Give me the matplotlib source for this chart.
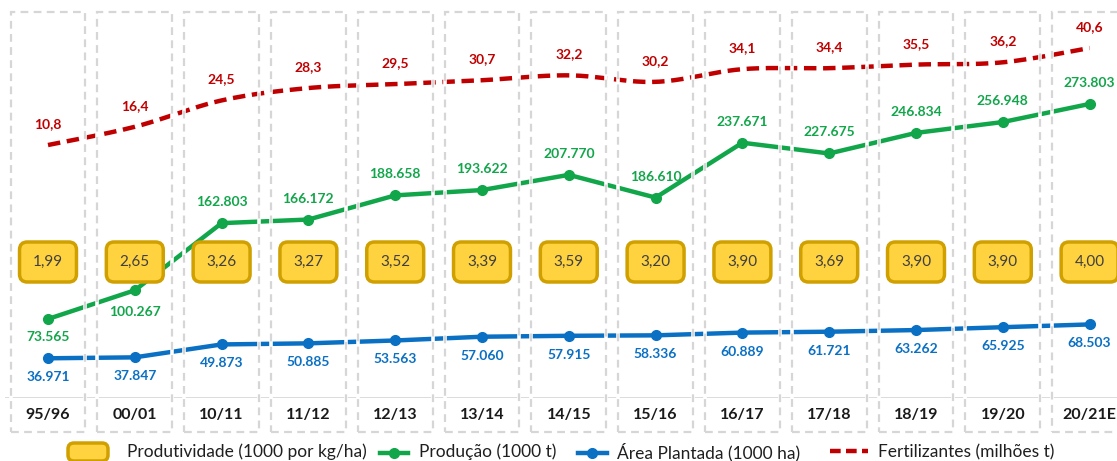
import numpy as np
import matplotlib.pyplot as plt
from matplotlib.patches import FancyBboxPatch, Rectangle
from matplotlib.lines import Line2D
from matplotlib.transforms import IdentityTransform

safras = ["95/96", "00/01", "10/11", "11/12", "12/13", "13/14", "14/15",
          "15/16", "16/17", "17/18", "18/19", "19/20", "20/21E"]
producao = [73565, 100267, 162803, 166172, 188658, 193622, 207770,
            186610, 237671, 227675, 246834, 256948, 273803]
area = [36971, 37847, 49873, 50885, 53563, 57060, 57915,
        58336, 60889, 61721, 63262, 65925, 68503]
produtividade = [1.99, 2.65, 3.26, 3.27, 3.52, 3.39, 3.59,
                 3.20, 3.90, 3.69, 3.90, 3.90, 4.00]
fertilizantes = [10.8, 16.4, 24.5, 28.3, 29.5, 30.7, 32.2,
                 30.2, 34.1, 34.4, 35.5, 36.2, 40.6]

VERDE = "#12A64B"
AZUL = "#0A70C4"
VERMELHO = "#C00000"
CINZA = "#D6D6D6"
plt.rcParams["font.family"] = ["Lato", "DejaVu Sans"]

W, H = 1117, 461
PX = 1.074          # pixels per unit (1000) on the main axis


def fmt_mil(v):
    return f"{v:,}".replace(",", ".")


def fmt_dec(v, n):
    return f"{v:.{n}f}".replace(".", ",")


def catmull(x, y, n=24):
    # smoothed line like Excel's "smooth line"
    p = np.column_stack([x, y]).astype(float)
    p = np.vstack([p[0], p, p[-1]])
    out = []
    t = np.linspace(0, 1, n)[:, None]
    for i in range(1, len(p) - 2):
        p0, p1, p2, p3 = p[i - 1], p[i], p[i + 1], p[i + 2]
        seg = 0.5 * ((2 * p1) + (-p0 + p2) * t + (2 * p0 - 5 * p1 + 4 * p2 - p3) * t ** 2
                     + (-p0 + 3 * p1 - 3 * p2 + p3) * t ** 3)
        out.append(seg if i == 1 else seg[1:])
    out = np.vstack(out)
    return out[:, 0], out[:, 1]


fig = plt.figure(figsize=(W / 100, H / 100), dpi=100)
ax = fig.add_axes([4.6 / W, 63 / H, 1128.4 / W, 388 / H])
ax.set_xlim(-0.5, 12.5)
ax.set_ylim(0, 388 / PX)
ax.axis("off")

ax2 = ax.twinx()
ax2.set_ylim(-66.9, 52.27)
ax2.axis("off")
ax.set_zorder(2)
ax.patch.set_visible(False)

x = np.arange(len(safras))
prod_k = [v / 1000 for v in producao]
area_k = [v / 1000 for v in area]

# fertilizantes (secondary axis, behind)
sx, sy = catmull(x, fertilizantes)
ax2.plot(sx, sy, color=VERMELHO, lw=3.2, linestyle=(0, (2.8, 1.5)),
         dash_capstyle="butt")
for i, v in enumerate(fertilizantes):
    ax2.annotate(fmt_dec(v, 1), (i, v), xytext=(0, 21), textcoords="offset pixels",
                 ha="center", va="center", color=VERMELHO, fontsize=10,
                 fontweight="bold")

# base line
ax.axhline(0, color=CINZA, lw=1.2, zorder=1)

# lines
ax.plot(x, prod_k, color=VERDE, lw=3.2, marker="o", markersize=7, zorder=3)
ax.plot(x, area_k, color=AZUL, lw=3.2, marker="o", markersize=7, zorder=3)

# dashed category boxes
top = (398 - 12) / PX
bot = (398 - 432) / PX
for i in x:
    for ec, lw, ls in [("white", 2.6, "-"), (CINZA, 1.6, (0, (3.5, 2.4)))]:
        ax.add_patch(Rectangle((i - 0.432, bot), 0.864, top - bot, fill=False,
                               edgecolor=ec, lw=lw, linestyle=ls, zorder=4,
                               clip_on=False))
    ax.text(i, (398 - 415) / PX, safras[i], ha="center", va="center",
            fontsize=11.5, fontweight="bold", color="#1A1A1A", zorder=6)

# labels
for i, v in enumerate(producao):
    if i < 2:
        off = -18 if i == 0 else -22
    else:
        off = 21
    ax.annotate(fmt_mil(v), (i, prod_k[i]), xytext=(0, off), textcoords="offset pixels",
                ha="center", va="center", color=VERDE, fontsize=10,
                fontweight="bold", zorder=6)
for i, v in enumerate(area):
    ax.annotate(fmt_mil(v), (i, area_k[i]), xytext=(0, -19), textcoords="offset pixels",
                ha="center", va="center", color=AZUL, fontsize=10,
                fontweight="bold", zorder=6)

# produtividade boxes
cy = (398 - 262) / PX
hh = 20 / PX
hw = 0.328
for i, v in enumerate(produtividade):
    ax.add_patch(FancyBboxPatch((i - hw, cy - hh), 2 * hw, 2 * hh,
                                boxstyle="round,pad=0,rounding_size=0.09",
                                mutation_aspect=86.8 / PX,
                                facecolor="#FFD23F", edgecolor="#CFA000", lw=2.5,
                                zorder=5))
    ax.text(i, cy, fmt_dec(v, 2), ha="center", va="center", fontsize=11,
            color="#404040", zorder=6)

# legend (pixel positions)
ident = IdentityTransform()
fig.add_artist(FancyBboxPatch((68, H - 461), 40, 18, boxstyle="round,pad=0,rounding_size=6",
                              facecolor="#FFD23F", edgecolor="#CFA000", lw=2.5,
                              transform=ident))
fig.add_artist(Line2D([380, 408], [H - 453, H - 453], color=VERDE, lw=3.2,
                      transform=ident))
fig.add_artist(Line2D([394], [H - 453], color=VERDE, marker="o", markersize=7,
                      transform=ident))
fig.add_artist(Line2D([578, 607], [H - 453, H - 453], color=AZUL, lw=3.2,
                      transform=ident))
fig.add_artist(Line2D([592], [H - 453], color=AZUL, marker="o", markersize=7,
                      transform=ident))
fig.add_artist(Line2D([830, 868], [H - 451, H - 451], color=VERMELHO, lw=3.2,
                      linestyle=(0, (2.4, 1.2)), transform=ident))
leg = [(127, "Produtividade (1000 por kg/ha)"), (419, "Produção (1000 t)"),
       (617, "Área Plantada (1000 ha)"), (878, "Fertilizantes (milhões t)")]
for px, txt in leg:
    fig.text(px / W, 1 - 452 / H, txt, ha="left", va="center", fontsize=12.5,
             color="#1F1F1F")

fig.savefig("out.png", dpi=100)
